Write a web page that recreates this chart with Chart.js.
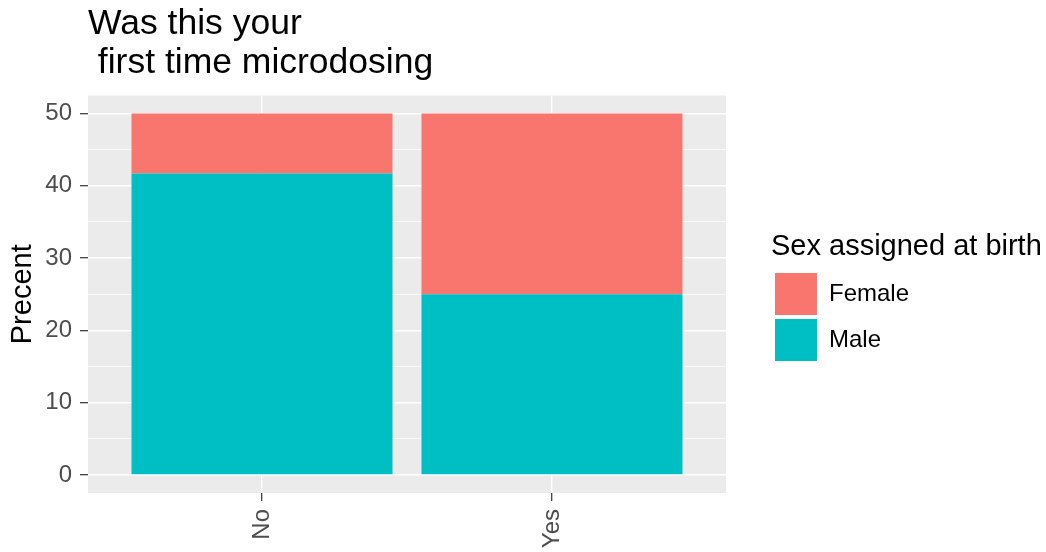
<!DOCTYPE html>
<html>
<head>
<meta charset="utf-8">
<script src="https://cdn.jsdelivr.net/npm/chart.js@4"></script>
<style>
  html, body { margin: 0; padding: 0; background: #fff; }
  #wrap { width: 1046px; height: 552px; }
</style>
</head>
<body>
<div id="wrap"><canvas id="grafico"></canvas></div>
<script>
// dados
const categorias = ["No", "Yes"];
const masculino = [41.7, 25];
const feminino = [8.3, 25];
const ticksY = [0, 5, 10, 15, 20, 25, 30, 35, 40, 45, 50];

const fonte = "'Liberation Sans', Arial, sans-serif";
Chart.defaults.font.family = fonte;

// fundo cinza do painel, estilo ggplot
const painel = {
    id: "painel",
    afterLayout(chart) {
        // deixa o título da legenda passar da largura dos itens
        const leg = chart.legend;
        if (leg) {
            leg.right = chart.width;
            leg.width = leg.right - leg.left;
        }
    },
    beforeDraw(chart) {
        const { ctx, chartArea } = chart;
        ctx.save();
        ctx.fillStyle = "#fff";
        ctx.fillRect(0, 0, chart.width, chart.height);
        ctx.fillStyle = "#EBEBEB";
        ctx.fillRect(chartArea.left, chartArea.top, chartArea.right - chartArea.left, chartArea.bottom - chartArea.top);
        ctx.restore();
    }
};

function pontos(valores) {
    return valores.map((v, i) => ({ x: i + 1, y: v }));
}

const ctx = document.getElementById("grafico").getContext("2d");
const grafico = new Chart(ctx, {
    type: "bar",
    data: {
        datasets: [
            { label: "Male", data: pontos(masculino), backgroundColor: "#00BFC4" },
            { label: "Female", data: pontos(feminino), backgroundColor: "#F8766D" }
        ]
    },
    options: {
        responsive: true,
        maintainAspectRatio: false,
        animation: false,
        categoryPercentage: 0.9,
        barPercentage: 1,
        borderWidth: 0,
        layout: { padding: { left: 0, right: 127, top: 0, bottom: 0 } },
        plugins: {
            tooltip: { enabled: false },
            title: {
                display: true,
                fullSize: false,
                align: "start",
                text: ["Was this your", " first time microdosing"],
                color: "#000",
                font: { size: 35.5, weight: "normal", lineHeight: 1.12 },
                padding: { top: 4, bottom: 12 }
            },
            legend: {
                position: "right",
                reverse: true,
                title: {
                    display: true,
                    position: "start",
                    text: "Sex assigned at birth",
                    color: "#000",
                    font: { size: 29 },
                    padding: { top: 45, bottom: 2 }
                },
                labels: {
                    boxWidth: 42,
                    boxHeight: 42,
                    padding: 4,
                    color: "#000",
                    font: { size: 24 }
                }
            }
        },
        scales: {
            x: {
                type: "linear",
                min: 0.4,
                max: 2.6,
                offset: false,
                stacked: true,
                afterBuildTicks(scale) {
                    scale.ticks = categorias.map((c, i) => ({ value: i + 1 }));
                },
                afterFit(scale) {
                    scale.height = 59;
                },
                ticks: {
                    minRotation: 90,
                    maxRotation: 90,
                    padding: 8,
                    color: "#4D4D4D",
                    font: { size: 24 },
                    callback: (v) => categorias[v - 1]
                },
                grid: { offset: false, color: "#fff", lineWidth: 1.4, tickLength: 8, tickColor: "#333", tickWidth: 1.2 },
                border: { display: false }
            },
            y: {
                min: -2.5,
                max: 52.5,
                stacked: true,
                afterBuildTicks(scale) {
                    scale.ticks = ticksY.map((v) => ({ value: v }));
                },
                afterFit(scale) {
                    scale.width = 88;
                },
                ticks: {
                    padding: 8,
                    color: "#4D4D4D",
                    font: { size: 24 },
                    callback: (v) => (v % 10 === 0 ? v : "")
                },
                grid: {
                    color: "#fff",
                    lineWidth: (c) => (c.tick && c.tick.value % 10 === 0 ? 1.4 : 0.7),
                    tickLength: 8,
                    tickColor: (c) => (c.tick && c.tick.value % 10 === 0 ? "#333" : "rgba(0,0,0,0)"),
                    tickWidth: 1.2
                },
                border: { display: false },
                title: {
                    display: true,
                    text: "Precent",
                    color: "#000",
                    font: { size: 29 },
                    padding: { top: 6, bottom: 0 }
                }
            },
            espaco: {
                type: "linear",
                position: "right",
                grid: { display: false },
                ticks: { display: false },
                border: { display: false },
                afterFit(scale) {
                    scale.width = 45;
                }
            }
        }
    },
    plugins: [painel]
});
</script>
</body>
</html>
